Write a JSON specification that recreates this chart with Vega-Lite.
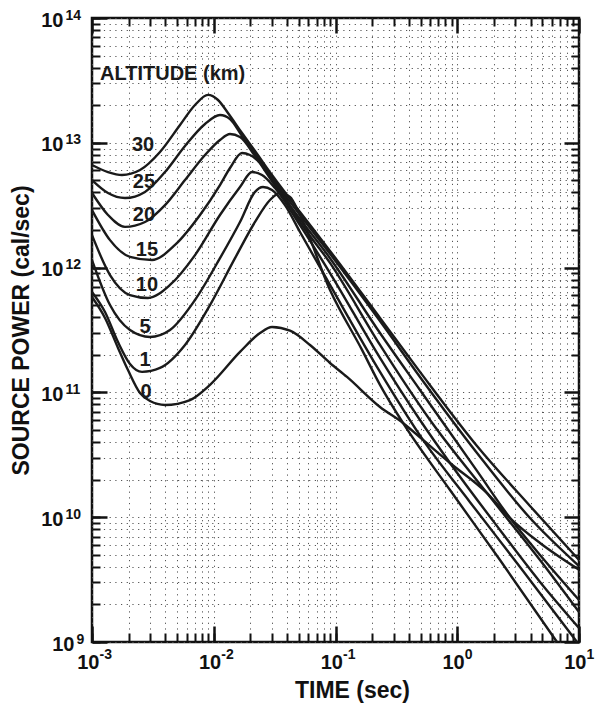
{
"$schema":"https://vega.github.io/schema/vega-lite/v6.json",
"width":487,"height":624,
"autosize":{"type":"none"},
"padding":{"left":92,"top":18,"right":23,"bottom":61},
"background":"white",
"config":{
 "view":{"stroke":"#111","strokeWidth":2.5},
 "axis":{"labelFont":"Liberation Sans","labelColor":"#111","labelFontWeight":"bold","titleFont":"Liberation Sans","titleColor":"#111","titleFontWeight":"bold","tickColor":"#111","domain":false,"labelOverlap":false,"labelBound":false}
},
"datasets":{
 "corner":[{"t":0.001,"p":1e9},{"t":10,"p":1e14}],
 "labs":[
  {"lab":"30","t":0.002624,"p":9.59e12},
  {"lab":"25","t":0.002673,"p":4.85e12},
  {"lab":"20","t":0.002673,"p":2.64e12},
  {"lab":"15","t":0.002829,"p":1.38e12},
  {"lab":"10","t":0.002829,"p":7.26e11},
  {"lab":"5","t":0.002724,"p":3.34e11},
  {"lab":"1","t":0.002724,"p":1.82e11},
  {"lab":"0","t":0.002778,"p":1.01e11}
 ],
 "head":[{"lab":"ALTITUDE (km)","t":0.001164,"p":3.18e13}],
 "curves":[
  {"a":"30","t":0.001,"p":6.64e12},{"a":"30","t":0.001353,"p":5.83e12},{"a":"30","t":0.001763,"p":5.52e12},{"a":"30","t":0.002479,"p":6.05e12},{"a":"30","t":0.003618,"p":8.44e12},{"a":"30","t":0.005283,"p":1.389e13},{"a":"30","t":0.007015,"p":2.009e13},{"a":"30","t":0.008971,"p":2.42e13},{"a":"30","t":0.01084,"p":2.203e13},{"a":"30","t":0.01309,"p":1.733e13},{"a":"30","t":0.01706,"p":1.198e13},{"a":"30","t":0.02182,"p":8.6e12},{"a":"30","t":0.03009,"p":5.52e12},{"a":"30","t":0.05109,"p":2.79e12},{"a":"30","t":0.09014,"p":1.36e12},{"a":"30","t":0.232,"p":3.95e11},{"a":"30","t":0.4943,"p":1.46e11},{"a":"30","t":1.453,"p":3.72e10},{"a":"30","t":3.958,"p":1.23e10},{"a":"30","t":10,"p":4.54e9},
  {"a":"25","t":0.001,"p":5.03e12},{"a":"25","t":0.001353,"p":3.96e12},{"a":"25","t":0.001866,"p":3.61e12},{"a":"25","t":0.002724,"p":4.04e12},{"a":"25","t":0.003977,"p":5.83e12},{"a":"25","t":0.005807,"p":9.43e12},{"a":"25","t":0.008475,"p":1.415e13},{"a":"25","t":0.01125,"p":1.671e13},{"a":"25","t":0.0136,"p":1.552e13},{"a":"25","t":0.01706,"p":1.134e13},{"a":"25","t":0.02182,"p":8.13e12},{"a":"25","t":0.03009,"p":5.22e12},{"a":"25","t":0.05109,"p":2.64e12},{"a":"25","t":0.09014,"p":1.29e12},{"a":"25","t":0.232,"p":3.73e11},{"a":"25","t":0.4943,"p":1.33e11},{"a":"25","t":1.453,"p":3.27e10},{"a":"25","t":3.958,"p":9.85e9},{"a":"25","t":10,"p":4.06e9},
  {"a":"20","t":0.001,"p":3.96e12},{"a":"20","t":0.001353,"p":2.64e12},{"a":"20","t":0.001866,"p":2.12e12},{"a":"20","t":0.002724,"p":2.32e12},{"a":"20","t":0.003977,"p":3.17e12},{"a":"20","t":0.005807,"p":5.03e12},{"a":"20","t":0.008475,"p":7.98e12},{"a":"20","t":0.01125,"p":1.053e13},{"a":"20","t":0.0136,"p":1.176e13},{"a":"20","t":0.01643,"p":1.113e13},{"a":"20","t":0.02182,"p":7.84e12},{"a":"20","t":0.03009,"p":4.94e12},{"a":"20","t":0.05109,"p":2.45e12},{"a":"20","t":0.09014,"p":1.19e12},{"a":"20","t":0.232,"p":2.99e11},{"a":"20","t":0.4943,"p":1.045e11},{"a":"20","t":1.453,"p":2.35e10},{"a":"20","t":2.713,"p":9.85e9},{"a":"20","t":4.783,"p":4.98e9},{"a":"20","t":10,"p":2.17e9},
  {"a":"15","t":0.001,"p":2.89e12},{"a":"15","t":0.001406,"p":1.66e12},{"a":"15","t":0.002051,"p":1.22e12},{"a":"15","t":0.003111,"p":1.15e12},{"a":"15","t":0.004806,"p":1.52e12},{"a":"15","t":0.007711,"p":2.64e12},{"a":"15","t":0.01125,"p":4.59e12},{"a":"15","t":0.0136,"p":6.28e12},{"a":"15","t":0.01706,"p":8.29e12},{"a":"15","t":0.01985,"p":7.98e12},{"a":"15","t":0.02491,"p":6.64e12},{"a":"15","t":0.03501,"p":4.19e12},{"a":"15","t":0.05109,"p":2.32e12},{"a":"15","t":0.09014,"p":1.09e12},{"a":"15","t":0.232,"p":2.4e11},{"a":"15","t":0.5973,"p":6.01e10},{"a":"15","t":1.755,"p":1.56e10},{"a":"15","t":4.783,"p":4.54e9},{"a":"15","t":10,"p":1.74e9},
  {"a":"10","t":0.001,"p":1.82e12},{"a":"10","t":0.001406,"p":8.72e11},{"a":"10","t":0.002051,"p":6.03e11},{"a":"10","t":0.002884,"p":5.71e11},{"a":"10","t":0.004371,"p":7.26e11},{"a":"10","t":0.007015,"p":1.26e12},{"a":"10","t":0.01125,"p":2.64e12},{"a":"10","t":0.01643,"p":4.42e12},{"a":"10","t":0.02062,"p":5.83e12},{"a":"10","t":0.02491,"p":5.52e12},{"a":"10","t":0.03185,"p":4.34e12},{"a":"10","t":0.05109,"p":2.19e12},{"a":"10","t":0.09014,"p":9.05e11},{"a":"10","t":0.232,"p":1.89e11},{"a":"10","t":0.4943,"p":6.01e10},{"a":"10","t":0.872,"p":2.72e10},{"a":"10","t":2.244,"p":7.9e9},{"a":"10","t":4.783,"p":3.03e9},{"a":"10","t":10,"p":1.295e9},
  {"a":"5","t":0.001,"p":1.15e12},{"a":"5","t":0.001406,"p":5.01e11},{"a":"5","t":0.002051,"p":3.16e11},{"a":"5","t":0.002995,"p":2.78e11},{"a":"5","t":0.004371,"p":3.16e11},{"a":"5","t":0.007015,"p":5.5e11},{"a":"5","t":0.01125,"p":1.19e12},{"a":"5","t":0.01643,"p":2.32e12},{"a":"5","t":0.02182,"p":4.04e12},{"a":"5","t":0.02538,"p":4.42e12},{"a":"5","t":0.03009,"p":4.19e12},{"a":"5","t":0.03847,"p":3.17e12},{"a":"5","t":0.05109,"p":1.93e12},{"a":"5","t":0.09014,"p":7.26e11},{"a":"5","t":0.232,"p":1.46e11},{"a":"5","t":0.5232,"p":4.16e10},{"a":"5","t":1.273,"p":1.32e10},{"a":"5","t":3.277,"p":3.99e9},{"a":"5","t":9.63,"p":1e9},
  {"a":"1","t":0.001,"p":6.38e11},{"a":"1","t":0.001279,"p":4.41e11},{"a":"1","t":0.001636,"p":2.53e11},{"a":"1","t":0.002051,"p":1.69e11},{"a":"1","t":0.002575,"p":1.46e11},{"a":"1","t":0.003618,"p":1.57e11},{"a":"1","t":0.005807,"p":2.4e11},{"a":"1","t":0.009316,"p":5.01e11},{"a":"1","t":0.01495,"p":1.19e12},{"a":"1","t":0.02182,"p":2.32e12},{"a":"1","t":0.02897,"p":3.48e12},{"a":"1","t":0.03501,"p":3.96e12},{"a":"1","t":0.04229,"p":3.68e12},{"a":"1","t":0.05109,"p":2.64e12},{"a":"1","t":0.09014,"p":6.62e11},{"a":"1","t":0.1651,"p":2.19e11},{"a":"1","t":0.232,"p":1.15e11},{"a":"1","t":0.3584,"p":5.69e10},{"a":"1","t":0.872,"p":1.65e10},{"a":"1","t":2.244,"p":4.54e9},{"a":"1","t":6.596,"p":1e9},
  {"a":"0","t":0.001,"p":5.81e11},{"a":"0","t":0.001279,"p":3.95e11},{"a":"0","t":0.001636,"p":2.27e11},{"a":"0","t":0.001975,"p":1.51e11},{"a":"0","t":0.002479,"p":9.89e10},{"a":"0","t":0.002995,"p":8.53e10},{"a":"0","t":0.003977,"p":7.93e10},{"a":"0","t":0.006382,"p":8.69e10},{"a":"0","t":0.009316,"p":1.15e11},{"a":"0","t":0.01643,"p":2.11e11},{"a":"0","t":0.02399,"p":2.99e11},{"a":"0","t":0.03009,"p":3.34e11},{"a":"0","t":0.04229,"p":3.12e11},{"a":"0","t":0.06175,"p":2.4e11},{"a":"0","t":0.09014,"p":1.72e11},{"a":"0","t":0.1243,"p":1.33e11},{"a":"0","t":0.232,"p":7.64e10},{"a":"0","t":0.3584,"p":5.69e10},{"a":"0","t":0.5232,"p":4.16e10},{"a":"0","t":0.872,"p":2.72e10},{"a":"0","t":1.755,"p":1.56e10},{"a":"0","t":2.713,"p":9.85e9},{"a":"0","t":4.783,"p":6.22e9},{"a":"0","t":10,"p":3.8e9}
 ]
},
"layer":[
 {"data":{"name":"corner"},"mark":{"type":"point","opacity":0},
  "encoding":{
   "x":{"field":"t","type":"quantitative","scale":{"type":"log","domain":[0.001,10],"nice":false},
    "axis":{"orient":"bottom","values":[0.001,0.002,0.003,0.004,0.005,0.006,0.007,0.008,0.009,0.01,0.02,0.03,0.04,0.05,0.06,0.07,0.08,0.09,0.1,0.2,0.3,0.4,0.5,0.6,0.7,0.8,0.9,1,2,3,4,5,6,7,8,9,10],"labels":false,"tickSize":-9,"tickWidth":2,"grid":true,"gridDash":[1.2,4.5],"gridColor":"#555","gridWidth":1,"title":null}},
   "y":{"field":"p","type":"quantitative","scale":{"type":"log","domain":[1e9,1e14],"nice":false},
    "axis":{"orient":"left","values":[1e9,2e9,3e9,4e9,5e9,6e9,7e9,8e9,9e9,1e10,2e10,3e10,4e10,5e10,6e10,7e10,8e10,9e10,1e11,2e11,3e11,4e11,5e11,6e11,7e11,8e11,9e11,1e12,2e12,3e12,4e12,5e12,6e12,7e12,8e12,9e12,1e13,2e13,3e13,4e13,5e13,6e13,7e13,8e13,9e13,1e14],"labels":false,"tickSize":-8,"tickWidth":2,"grid":true,"gridDash":[1.2,4.5],"gridColor":"#555","gridWidth":1,"title":null}}
  }},
 {"data":{"name":"corner"},"mark":{"type":"point","opacity":0},
  "encoding":{
   "x":{"field":"t","type":"quantitative","scale":{"type":"log","domain":[0.001,10],"nice":false},
    "axis":{"orient":"top","values":[0.002,0.003,0.004,0.005,0.006,0.007,0.008,0.009,0.02,0.03,0.04,0.05,0.06,0.07,0.08,0.09,0.2,0.3,0.4,0.5,0.6,0.7,0.8,0.9,2,3,4,5,6,7,8,9],"labels":false,"tickSize":-8,"tickWidth":2,"grid":false,"title":null}},
   "y":{"field":"p","type":"quantitative","scale":{"type":"log","domain":[1e9,1e14],"nice":false},
    "axis":{"orient":"right","values":[2e9,3e9,4e9,5e9,6e9,7e9,8e9,9e9,2e10,3e10,4e10,5e10,6e10,7e10,8e10,9e10,2e11,3e11,4e11,5e11,6e11,7e11,8e11,9e11,2e12,3e12,4e12,5e12,6e12,7e12,8e12,9e12,2e13,3e13,4e13,5e13,6e13,7e13,8e13,9e13],"labels":false,"tickSize":-8,"tickWidth":2,"grid":false,"title":null}}
  }},
 {"data":{"name":"corner"},"mark":{"type":"point","opacity":0},
  "encoding":{
   "x":{"field":"t","type":"quantitative","scale":{"type":"log","domain":[0.001,10],"nice":false},
    "axis":{"orient":"top","values":[0.001,0.01,0.1,1,10],"labels":false,"tickSize":-15,"tickWidth":2.5,"grid":false,"title":null}},
   "y":{"field":"p","type":"quantitative","scale":{"type":"log","domain":[1e9,1e14],"nice":false},
    "axis":{"orient":"right","values":[1e9,1e10,1e11,1e12,1e13,1e14],"labels":false,"tickSize":-15,"tickWidth":2.5,"grid":false,"title":null}}
  }},
 {"data":{"name":"corner"},"mark":{"type":"point","opacity":0},
  "encoding":{
   "x":{"field":"t","type":"quantitative","scale":{"type":"log","domain":[0.001,10],"nice":false},
    "axis":{"orient":"bottom","values":[0.001,0.01,0.1,1,10],"ticks":false,"labelExpr":"'' + round(log(datum.value)/LN10)","labelFontSize":14,"labelAlign":"left","labelBaseline":"top","labelOffset":7,"labelPadding":5,"labelFlush":false,"grid":false,"title":null}},
   "y":{"field":"p","type":"quantitative","scale":{"type":"log","domain":[1e9,1e14],"nice":false},
    "axis":{"orient":"left","values":[1e9,1e10,1e11,1e12,1e13,1e14],"ticks":false,"labelExpr":"'' + round(log(datum.value)/LN10)","labelFontSize":14,"labelAlign":"left","labelBaseline":"middle","labelOffset":-3,"labelPadding":{"condition":{"test":"datum.value < 2e9","value":16},"value":27},"labelFlush":true,"grid":false,"title":null}}
  }},
 {"data":{"name":"curves"},"mark":{"type":"line","interpolate":"monotone","stroke":"#1a1a1a","strokeWidth":2.4},
  "encoding":{
   "detail":{"field":"a"},
   "x":{"field":"t","type":"quantitative","scale":{"type":"log","domain":[0.001,10],"nice":false},
    "axis":{"orient":"bottom","values":[0.001,0.01,0.1,1,10],"labelExpr":"'10'","labelFontSize":20,"labelAlign":"right","labelBaseline":"top","labelOffset":7,"labelPadding":26,"labelFlush":false,"tickSize":-16,"tickWidth":2.5,"grid":false,
     "title":"TIME (sec)","titleFontSize":23,"titleX":260,"titleY":55,"titleBaseline":"alphabetic","titleAlign":"center"}},
   "y":{"field":"p","type":"quantitative","scale":{"type":"log","domain":[1e9,1e14],"nice":false},
    "axis":{"orient":"left","values":[1e9,1e10,1e11,1e12,1e13,1e14],"labelExpr":"'10'","labelFontSize":20,"labelAlign":"right","labelBaseline":"middle","labelOffset":2,"labelPadding":{"condition":{"test":"datum.value < 2e9","value":33},"value":44},"labelFlush":true,"tickSize":-15,"tickWidth":2.5,"grid":false,
     "title":"SOURCE POWER (cal/sec)","titleFontSize":23,"titleAngle":-90,"titleX":-64,"titleY":312,"titleBaseline":"alphabetic","titleAlign":"center"}}
  }},
 {"data":{"name":"labs"},"mark":{"type":"text","font":"Liberation Sans","fontSize":20,"fontWeight":"bold","fill":"#1a1a1a","align":"center","baseline":"middle"},
  "encoding":{
   "x":{"field":"t","type":"quantitative","scale":{"type":"log","domain":[0.001,10],"nice":false},"axis":null},
   "y":{"field":"p","type":"quantitative","scale":{"type":"log","domain":[1e9,1e14],"nice":false},"axis":null},
   "text":{"field":"lab"}
  }},
 {"data":{"name":"head"},"mark":{"type":"text","font":"Liberation Sans","fontSize":20,"fontWeight":"bold","fill":"#1a1a1a","align":"left","baseline":"alphabetic"},
  "encoding":{
   "x":{"field":"t","type":"quantitative","scale":{"type":"log","domain":[0.001,10],"nice":false},"axis":null},
   "y":{"field":"p","type":"quantitative","scale":{"type":"log","domain":[1e9,1e14],"nice":false},"axis":null},
   "text":{"field":"lab"}
  }}
],
"resolve":{"axis":{"x":"independent","y":"independent"}}
}
